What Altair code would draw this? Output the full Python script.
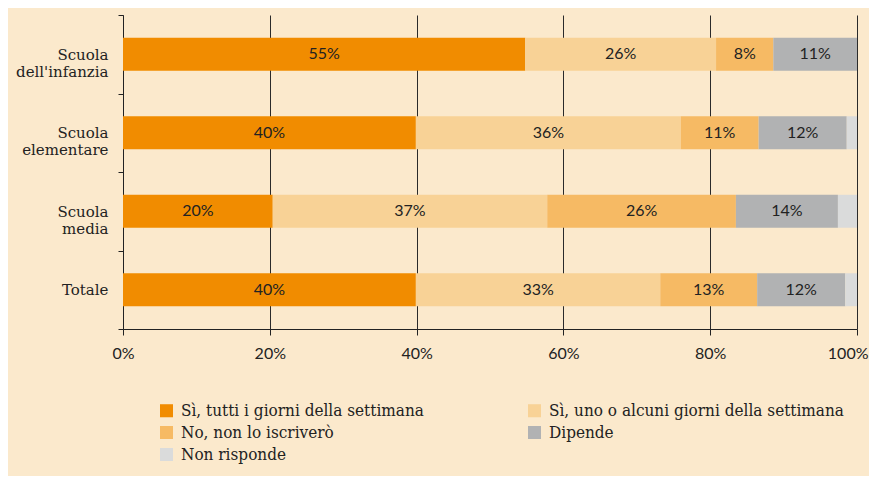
import altair as alt
import pandas as pd

categories = ["Scuola\ndell'infanzia", "Scuola\nelementare", "Scuola\nmedia", "Totale"]
series = [
    "Sì, tutti i giorni della settimana",
    "Sì, uno o alcuni giorni della settimana",
    "No, non lo iscriverò",
    "Dipende",
    "Non risponde",
]
tutti = [54.8, 39.9, 20.4, 39.9]
alcuni = [26.0, 36.1, 37.4, 33.3]
no = [7.8, 10.6, 25.7, 13.2]
dipende = [11.4, 12.0, 13.9, 12.0]
non_risponde = [0.0, 1.4, 2.6, 1.6]
colors = ["#F18C00", "#F8D296", "#F6BA64", "#B1B2B3", "#DADBDB"]
x_ticks = [0, 20, 40, 60, 80, 100]

values = [tutti, alcuni, no, dipende, non_risponde]
rows = []
for si, s in enumerate(series):
    for ci, c in enumerate(categories):
        rows.append({"cat": c, "serie": s, "ord": si, "v": values[si][ci]})
df = pd.DataFrame(rows)

base = alt.Chart(df).transform_stack(
    stack="v", groupby=["cat"], as_=["x0", "x1"], sort=[alt.SortField("ord", order="ascending")]
).transform_calculate(mid="(datum.x0 + datum.x1) / 2", lab="round(datum.v) + '%'")

y_enc = alt.Y(
    "cat:N",
    sort=categories,
    title=None,
    scale=alt.Scale(paddingInner=0, paddingOuter=0),
    axis=alt.Axis(
        tickBand="extent",
        labelExpr="split(datum.label, '\\n')",
        labelFont="DejaVu Serif",
        labelFontSize=15,
        labelColor="#222222",
        labelLineHeight=17,
        labelPadding=10,
        tickSize=5,
        tickColor="#222222",
        domainColor="#222222",
        grid=False,
    ),
)

bars = base.mark_bar(height=alt.RelativeBandSize(0.42)).encode(
    x=alt.X(
        "x0:Q",
        scale=alt.Scale(domain=[0, 100], nice=False),
        title=None,
        axis=alt.Axis(
            values=x_ticks,
            labelExpr="datum.value + '%'",
            labelFont="Lato",
            labelFontSize=16,
            labelColor="#222222",
            labelPadding=10,
            labelFlush=True,
            labelFlushOffset=11,
            tickSize=6,
            tickColor="#222222",
            domainColor="#222222",
            grid=True,
            gridColor="#2a2a2a",
            gridOpacity=1,
        ),
    ),
    x2="x1:Q",
    y=y_enc,
    color=alt.Color(
        "serie:N",
        sort=series,
        scale=alt.Scale(domain=series, range=colors),
        legend=alt.Legend(
            title=None,
            orient="none",
            direction="horizontal",
            legendX=35,
            legendY=387,
            columns=2,
            columnPadding=102,
            rowPadding=4,
            symbolType="square",
            symbolSize=170,
            symbolStrokeWidth=0,
            labelFont="DejaVu Serif Condensed",
            labelFontSize=17,
            labelColor="#222222",
            labelOffset=6,
            labelLimit=400,
        ),
    ),
    order=alt.Order("ord:Q"),
)

labels = base.transform_filter("datum.serie != 'Non risponde'").mark_text(
    font="Lato", fontSize=16, color="#222222"
).encode(
    x=alt.X("mid:Q", scale=alt.Scale(domain=[0, 100], nice=False)),
    y=alt.Y("cat:N", sort=categories),
    text="lab:N",
)

chart = alt.layer(bars, labels).properties(
    width=734,
    height=314,
    background="#FBE9CC",
    autosize=alt.AutoSizeParams(type="none"),
    padding={"left": 115, "top": 7, "right": 12, "bottom": 147},
).configure_view(stroke=None)

chart.save("out.html", embed_options={"renderer": "svg", "actions": False})
